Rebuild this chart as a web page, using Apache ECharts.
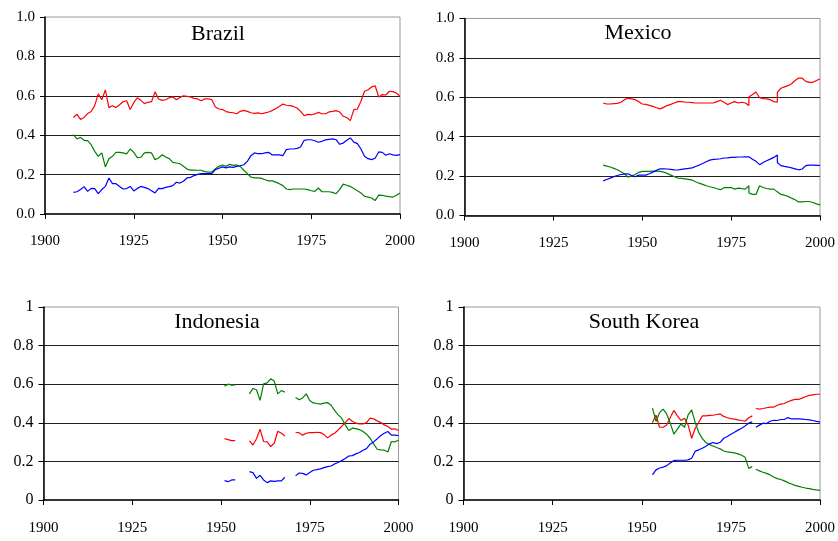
<!DOCTYPE html>
<html>
<head>
<meta charset="utf-8">
<script src="https://cdn.jsdelivr.net/npm/echarts@6.0.0/dist/echarts.min.js"></script>
<style>
html,body{margin:0;padding:0;background:#fff;}
#chart{width:838px;height:541px;}
</style>
</head>
<body>
<div id="chart"></div>
<script>
function range(a, b) { const r = []; for (let y = a; y <= b; y++) r.push(y); return r; }

// ---------- Brazil ----------
const brazilYears = range(1908, 2000);
const brazilRed = [0.49,0.506,0.48,0.49,0.51,0.52,0.55,0.61,0.58,0.63,0.54,0.55,0.54,0.555,0.57,0.575,0.53,0.565,0.59,0.577,0.56,0.567,0.57,0.62,0.584,0.577,0.58,0.59,0.594,0.58,0.592,0.60,0.597,0.594,0.587,0.584,0.575,0.584,0.584,0.58,0.543,0.533,0.53,0.52,0.516,
  0.514,0.509,0.521,0.526,0.521,0.514,0.511,0.513,0.509,0.513,0.518,0.525,0.535,0.546,0.558,0.552,0.55,0.546,0.538,0.521,0.499,0.506,0.504,0.508,0.516,0.509,0.509,0.518,0.521,0.525,0.518,0.496,0.49,0.474,0.53,0.533,0.572,0.623,0.631,0.645,0.651,0.594,0.606,0.604,0.623,0.621,0.614,0.597];
const brazilGreen = [0.403,0.381,0.389,0.374,0.372,0.352,0.318,0.293,0.31,0.239,0.281,0.293,0.313,0.313,0.31,0.305,0.33,0.313,0.286,0.288,0.31,0.313,0.31,0.276,0.284,0.301,0.289,0.281,0.262,0.259,0.255,0.242,0.228,0.223,0.223,0.222,0.222,0.215,0.213,0.213,0.23,0.242,0.249,0.242,0.252,
  0.247,0.249,0.242,0.222,0.205,0.188,0.183,0.183,0.181,0.174,0.168,0.168,0.162,0.154,0.144,0.127,0.124,0.127,0.127,0.127,0.127,0.124,0.118,0.115,0.132,0.113,0.113,0.113,0.11,0.103,0.124,0.152,0.146,0.14,0.129,0.118,0.107,0.09,0.086,0.081,0.068,0.096,0.095,0.091,0.088,0.086,0.095,0.107];
const brazilBlue = [0.11,0.113,0.124,0.139,0.115,0.13,0.129,0.103,0.124,0.14,0.183,0.154,0.154,0.14,0.127,0.129,0.14,0.117,0.13,0.14,0.135,0.129,0.118,0.107,0.13,0.129,0.135,0.139,0.144,0.161,0.157,0.166,0.183,0.186,0.195,0.201,0.205,0.205,0.205,0.205,0.225,0.232,0.239,0.234,0.239,
  0.237,0.242,0.245,0.25,0.267,0.296,0.31,0.306,0.306,0.31,0.313,0.3,0.3,0.3,0.296,0.327,0.33,0.33,0.333,0.34,0.374,0.377,0.377,0.372,0.364,0.369,0.376,0.379,0.381,0.377,0.354,0.36,0.374,0.386,0.365,0.357,0.33,0.293,0.281,0.276,0.283,0.315,0.313,0.298,0.306,0.3,0.298,0.301];

// ---------- Mexico (two splice points with two values each: 1980 and 1988) ----------
const mexicoYears = range(1939, 1980).concat([1980], range(1981, 1988), [1988], range(1989, 2000));
const mexicoRed = [0.571,0.566,0.566,0.568,0.569,0.575,0.588,0.595,0.592,0.588,0.578,0.566,0.564,0.559,0.554,0.547,0.541,0.549,0.558,0.564,0.571,0.578,0.578,0.576,0.575,0.573,0.571,0.571,0.571,0.571,0.571,0.571,0.578,0.585,0.575,0.563,0.571,0.578,0.571,0.575,0.571,
  0.558,0.602,0.614,0.627,0.598,0.593,0.592,0.588,0.578,0.575,0.625,0.646,0.653,0.659,0.669,0.685,0.698,0.697,0.681,0.676,0.676,0.685,0.693];
const mexicoGreen = [0.256,0.251,0.246,0.239,0.232,0.222,0.212,0.195,0.202,0.208,0.219,0.224,0.224,0.224,0.225,0.225,0.224,0.22,0.214,0.205,0.198,0.19,0.188,0.186,0.183,0.18,0.171,0.164,0.158,0.151,0.146,0.142,0.136,0.131,0.141,0.142,0.142,0.134,0.139,0.136,0.134,
  0.151,0.114,0.107,0.107,0.151,0.142,0.137,0.134,0.134,0.12,0.117,0.107,0.103,0.097,0.088,0.08,0.069,0.069,0.071,0.071,0.066,0.059,0.054];
const mexicoBlue = [0.176,0.183,0.19,0.197,0.203,0.208,0.21,0.212,0.203,0.197,0.205,0.205,0.205,0.212,0.22,0.229,0.237,0.237,0.236,0.234,0.232,0.231,0.234,0.237,0.239,0.242,0.249,0.256,0.264,0.273,0.281,0.285,0.286,0.288,0.292,0.293,0.295,0.295,0.297,0.297,0.298,
  0.298,0.298,0.286,0.275,0.258,0.269,0.278,0.286,0.295,0.307,0.269,0.253,0.249,0.246,0.242,0.237,0.232,0.236,0.253,0.256,0.256,0.254,0.254];

// ---------- Indonesia (gaps as null) ----------
const indonesiaYears = range(1951, 2000);
const indonesiaRed = [0.318,0.313,0.308,0.308,null,null,null,0.306,0.285,0.317,0.367,0.303,0.301,0.277,0.294,0.356,0.346,0.332,null,null,
  0.351,0.348,0.336,0.346,0.349,0.349,0.351,0.349,0.339,0.322,0.336,0.346,0.363,0.381,0.401,0.422,0.408,0.398,0.394,0.394,0.401,0.424,0.42,0.41,0.401,0.389,0.381,0.367,0.369,0.36];
const indonesiaGreen = [0.59,0.6,0.595,0.597,null,null,null,0.55,0.578,0.571,0.516,0.602,0.607,0.628,0.616,0.55,0.567,0.559,null,null,
  0.531,0.519,0.529,0.55,0.516,0.503,0.5,0.497,0.502,0.505,0.491,0.464,0.441,0.424,0.389,0.36,0.372,0.37,0.365,0.355,0.341,0.32,0.291,0.263,0.26,0.258,0.249,0.303,0.301,0.311];
const indonesiaBlue = [0.1,0.095,0.104,0.104,null,null,null,0.147,0.142,0.112,0.128,0.104,0.09,0.099,0.097,0.099,0.099,0.118,null,null,
  0.125,0.14,0.138,0.13,0.142,0.154,0.157,0.161,0.168,0.173,0.176,0.187,0.194,0.204,0.215,0.228,0.23,0.239,0.246,0.258,0.266,0.289,0.301,0.317,0.334,0.346,0.355,0.336,0.336,0.334];

// ---------- South Korea (two separate pieces) ----------
const koreaYearsA = range(1953, 1981);
const koreaRedA = [0.40,0.44,0.377,0.377,0.389,0.427,0.464,0.436,0.412,0.424,0.389,0.32,0.372,0.403,0.436,0.436,0.438,0.439,0.443,0.446,0.433,0.426,0.422,0.419,0.415,0.412,0.408,0.426,0.436];
const koreaGreenA = [0.476,0.407,0.453,0.471,0.446,0.398,0.341,0.367,0.394,0.377,0.441,0.467,0.401,0.349,0.318,0.298,0.287,0.28,0.272,0.265,0.254,0.249,0.247,0.244,0.239,0.232,0.221,0.164,0.173];
const koreaBlueA = [0.13,0.156,0.166,0.17,0.178,0.192,0.204,0.206,0.206,0.206,0.208,0.216,0.253,0.26,0.268,0.279,0.291,0.298,0.292,0.299,0.32,0.329,0.341,0.351,0.362,0.372,0.384,0.398,0.405];
const koreaYearsB = range(1982, 2000);
const koreaRedB = [0.474,0.471,0.474,0.478,0.481,0.481,0.491,0.497,0.5,0.509,0.516,0.521,0.521,0.528,0.536,0.542,0.545,0.548,0.548];
const koreaGreenB = [0.159,0.151,0.144,0.138,0.13,0.119,0.111,0.106,0.099,0.09,0.083,0.076,0.071,0.066,0.062,0.059,0.055,0.052,0.05];
const koreaBlueB = [0.377,0.388,0.398,0.396,0.408,0.413,0.412,0.417,0.417,0.427,0.42,0.42,0.42,0.419,0.417,0.415,0.412,0.407,0.405];

const xTicks = [1900, 1925, 1950, 1975, 2000];
const yTicks = [0, 0.2, 0.4, 0.6, 0.8, 1];
const titles = ['Brazil', 'Mexico', 'Indonesia', 'South Korea'];

const RED = '#ff0000', GREEN = '#008000', BLUE = '#0000ff';
const FONT = '"Liberation Serif", "Times New Roman", serif';

const panels = [
  { title: titles[0], grid: {left: 45, top: 17, width: 355, height: 197}, tx: 218, ty: 34, yFont: 15, fixed: true, xMargin: 20,
    pieces: [{years: brazilYears, red: brazilRed, green: brazilGreen, blue: brazilBlue}] },
  { title: titles[1], grid: {left: 464.5, top: 18.5, width: 356, height: 197}, tx: 638, ty: 33, yFont: 15, fixed: true, xMargin: 20,
    pieces: [{years: mexicoYears, red: mexicoRed, green: mexicoGreen, blue: mexicoBlue}] },
  { title: titles[2], grid: {left: 43.5, top: 307, width: 355, height: 193}, tx: 217, ty: 322, yFont: 16, fixed: false, xMargin: 21,
    pieces: [{years: indonesiaYears, red: indonesiaRed, green: indonesiaGreen, blue: indonesiaBlue}] },
  { title: titles[3], grid: {left: 463.5, top: 307, width: 356.5, height: 193}, tx: 644, ty: 322, yFont: 16, fixed: false, xMargin: 21,
    pieces: [{years: koreaYearsA, red: koreaRedA, green: koreaGreenA, blue: koreaBlueA},
             {years: koreaYearsB, red: koreaRedB, green: koreaGreenB, blue: koreaBlueB}] }
];

const grids = [], xAxes = [], yAxes = [], series = [], graphics = [];
panels.forEach((p, i) => {
  grids.push(Object.assign({show: true, borderColor: '#9a9a9a', borderWidth: 1, backgroundColor: 'transparent', containLabel: false}, p.grid));
  xAxes.push({
    type: 'value', gridIndex: i, min: xTicks[0], max: xTicks[xTicks.length - 1], interval: xTicks[1] - xTicks[0],
    axisLine: {show: true, onZero: false, lineStyle: {color: '#000', width: 1.5}},
    axisTick: {show: true, inside: false, length: 5, lineStyle: {color: '#000', width: 1}},
    splitLine: {show: false},
    axisLabel: {show: true, margin: p.xMargin, fontFamily: FONT, fontSize: 15, color: '#000', formatter: v => String(v)}
  });
  yAxes.push({
    type: 'value', gridIndex: i, min: yTicks[0], max: yTicks[yTicks.length - 1], interval: yTicks[1] - yTicks[0],
    axisLine: {show: true, lineStyle: {color: '#000', width: 1.5}},
    axisTick: {show: true, inside: false, length: 5, lineStyle: {color: '#000', width: 1}},
    splitLine: {show: true, showMinLine: false, showMaxLine: false, lineStyle: {color: '#222', width: 1}},
    axisLabel: {show: true, margin: 10, fontFamily: FONT, fontSize: p.yFont, color: '#000',
      formatter: v => p.fixed ? Number(v).toFixed(1) : String(Math.round(v * 10) / 10)}
  });
  p.pieces.forEach(pc => {
    [[pc.red, RED], [pc.green, GREEN], [pc.blue, BLUE]].forEach(([vals, col]) => {
      series.push({
        type: 'line', xAxisIndex: i, yAxisIndex: i, symbol: 'none', showSymbol: false, connectNulls: false,
        silent: true, animation: false, z: 3,
        lineStyle: {color: col, width: 1.2},
        data: pc.years.map((y, k) => [y, vals[k] == null ? '-' : vals[k]])
      });
    });
  });
  graphics.push({type: 'text', x: p.tx, y: p.ty, z: 10, silent: true,
    style: {text: p.title, fontFamily: FONT, fontSize: 22, fill: '#000', align: 'center', verticalAlign: 'middle'}});
});

const chart = echarts.init(document.getElementById('chart'), null, {renderer: 'canvas'});
chart.setOption({
  animation: false,
  backgroundColor: '#fff',
  grid: grids, xAxis: xAxes, yAxis: yAxes, series: series,
  graphic: {elements: graphics}
});
</script>
</body>
</html>
